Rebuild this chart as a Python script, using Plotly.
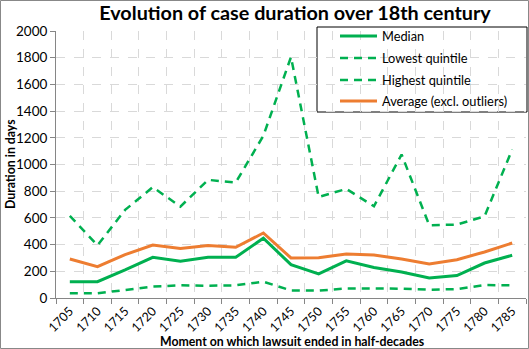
import plotly.graph_objects as go

years = ["1705","1710","1715","1720","1725","1730","1735","1740","1745","1750",
         "1755","1760","1765","1770","1775","1780","1785"]
median = [122,122,210,305,275,305,305,448,250,180,278,228,195,150,168,262,320]
lowest = [35,35,60,85,95,92,95,122,57,55,72,70,70,62,67,97,95]
highest = [615,395,660,830,685,885,865,1215,1805,757,817,687,1075,545,550,612,1112]
average = [292,235,325,397,370,393,380,487,300,302,330,322,292,255,287,345,412]

series_names = ["Median", "Lowest quintile", "Highest quintile", "Average (excl. outliers)"]

GREEN = "#00B050"
ORANGE = "#ED7D31"
FONT = "Lato"
DASH = "8px,6px"

styles = [
    dict(color=GREEN, width=3, dash="solid"),
    dict(color=GREEN, width=2.5, dash=DASH),
    dict(color=GREEN, width=2.5, dash=DASH),
    dict(color=ORANGE, width=3, dash="solid"),
]

L, R, T, B = 56, 3, 31, 51
W, H = 529, 349
PW, PH = W - L - R, H - T - B

def px_x(x):
    return (x - L) / PW

def px_y(y):
    return (H - B - y) / PH

fig = go.Figure()
for name, vals, st in zip(series_names, [median, lowest, highest, average], styles):
    fig.add_trace(go.Scatter(x=years, y=vals, mode="lines", name=name, line=st))

shapes = [
    dict(type="rect", xref="paper", yref="paper",
         x0=px_x(0.5), x1=px_x(528.5), y0=px_y(348.5), y1=px_y(0.5),
         line=dict(color="#888888", width=1), fillcolor="rgba(0,0,0,0)",
         layer="below"),
    dict(type="rect", xref="paper", yref="paper",
         x0=px_x(317), x1=px_x(527), y0=px_y(112), y1=px_y(27),
         line=dict(color="black", width=1), fillcolor="white",
         layer="between"),
]
annotations = [
    dict(text="<b>Moment on which lawsuit ended in half-decades</b>",
         xref="paper", yref="paper", x=px_x(292), y=px_y(341),
         xanchor="center", yanchor="middle", showarrow=False,
         font=dict(size=12.3, family=FONT)),
    dict(text="<b>Duration in days</b>", textangle=-90,
         xref="paper", yref="paper", x=px_x(10), y=px_y(164),
         xanchor="center", yanchor="middle", showarrow=False,
         font=dict(size=12.3, family=FONT)),
]
# legend (drawn manually for exact placement)
leg_y = [36, 58, 80, 101]
for name, st, yy in zip(series_names, styles, leg_y):
    shapes.append(dict(type="line", xref="paper", yref="paper",
                       x0=px_x(340), x1=px_x(377), y0=px_y(yy), y1=px_y(yy),
                       line=dict(color=st["color"], width=st["width"], dash=st["dash"]),
                       layer="above"))
    annotations.append(dict(text=name, xref="paper", yref="paper",
                            x=px_x(380), y=px_y(yy), xanchor="left", yanchor="middle",
                            showarrow=False, font=dict(size=12.8, family=FONT)))

fig.update_layout(
    width=W, height=H,
    margin=dict(l=L, r=R, t=T, b=B),
    paper_bgcolor="white", plot_bgcolor="white",
    font=dict(family=FONT, color="black", size=13),
    title=dict(text="<b>Evolution of case duration over 18th century</b>",
               x=px_x(295), xref="paper", xanchor="center", y=1 - 13/H, yanchor="middle",
               font=dict(size=19.8, family=FONT, color="black")),
    showlegend=False,
    shapes=shapes,
    annotations=annotations,
)

fig.update_xaxes(
    type="category", tickson="boundaries", automargin=False,
    showline=True, linecolor="#868686", linewidth=1,
    ticks="outside", ticklen=5, tickcolor="#868686",
    showgrid=True, gridcolor="#D9D9D9", griddash="dash", gridwidth=1,
    tickangle=-45, tickfont=dict(size=12.5),
    range=[-0.5, 16.5],
)
fig.update_yaxes(
    range=[0, 2000], dtick=200, automargin=False,
    showline=True, linecolor="#868686", linewidth=1,
    ticks="outside", ticklen=5, tickcolor="#868686",
    showgrid=True, gridcolor="#D9D9D9", griddash="dash", gridwidth=1,
    tickfont=dict(size=13.5), zeroline=False,
)

fig.write_html("out.html", config={"displayModeBar": False},
               post_script="document.body.style.margin='0px';document.body.style.overflow='hidden';")
